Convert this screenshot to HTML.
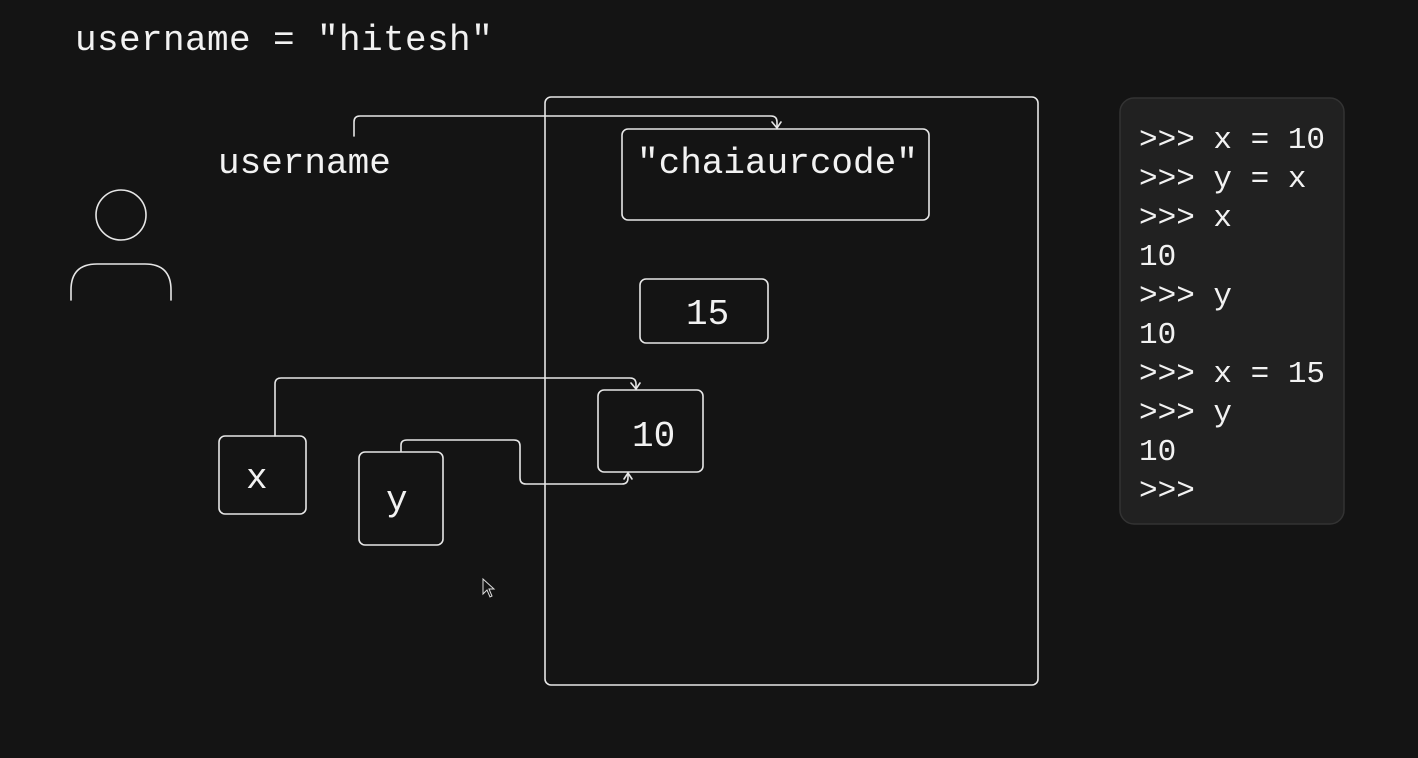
<!DOCTYPE html>
<html><head><style>
html,body{margin:0;padding:0;background:#141414;}
svg{display:block}
text{font-family:"Liberation Mono","DejaVu Sans Mono",monospace;fill:#f2f2f2}
</style></head><body>
<svg width="1418" height="758" viewBox="0 0 1418 758" xmlns="http://www.w3.org/2000/svg">
<rect width="1418" height="758" fill="#141414"/>
<g fill="none" stroke="#e6e6e6" stroke-width="1.6" stroke-linecap="round" stroke-linejoin="round">
<rect x="545" y="97" width="493" height="588" rx="6"/>
<rect x="622" y="129" width="307" height="91" rx="6"/>
<rect x="640" y="279" width="128" height="64" rx="6"/>
<rect x="598" y="390" width="105" height="82" rx="6"/>
<rect x="219" y="436" width="87" height="78" rx="6"/>
<rect x="359" y="452" width="84" height="93" rx="6"/>
<circle cx="121" cy="215" r="25"/>
<path d="M71 300 V290 Q71 264 97 264 H145 Q171 264 171 290 V300"/>
<path d="M354 136 V122 Q354 116 360 116 H771 Q777 116 777 122 V128"/>
<path d="M772 122 L777 128 L781 122"/>
<path d="M275 436 V384 Q275 378 281 378 H630 Q636 378 636 384 V389"/>
<path d="M631 383 L636 389 L640 383"/>
<path d="M401 451 V445 Q401 440 407 440 H514 Q520 440 520 446 V478 Q520 484 526 484 H622 Q628 484 628 478 V473"/>
<path d="M624 479 L628 473 L632 479"/>
</g>
<rect x="1120" y="98" width="224" height="426" rx="14" fill="#212121" stroke="#333" stroke-width="1.5"/>
<text x="75" y="50" font-size="36" letter-spacing="0.4">username = "hitesh"</text>
<text x="218" y="173" font-size="36">username</text>
<text x="637" y="173" font-size="36">"chaiaurcode"</text>
<text x="686" y="324" font-size="36">15</text>
<text x="632" y="446" font-size="36">10</text>
<text x="246" y="488" font-size="36">x</text>
<text x="386" y="510" font-size="36">y</text>
<g font-size="31">
<text x="1139" y="148">&gt;&gt;&gt; x = 10</text>
<text x="1139" y="187">&gt;&gt;&gt; y = x</text>
<text x="1139" y="226">&gt;&gt;&gt; x</text>
<text x="1139" y="265">10</text>
<text x="1139" y="304">&gt;&gt;&gt; y</text>
<text x="1139" y="343">10</text>
<text x="1139" y="382">&gt;&gt;&gt; x = 15</text>
<text x="1139" y="421">&gt;&gt;&gt; y</text>
<text x="1139" y="460">10</text>
<text x="1139" y="499">&gt;&gt;&gt;</text>
</g>
<path d="M483 579 V594 L487 590 L490 597 L492 596 L489 589 L494 589 Z" fill="#141414" stroke="#ddd" stroke-width="1"/>
</svg>
</body></html>
